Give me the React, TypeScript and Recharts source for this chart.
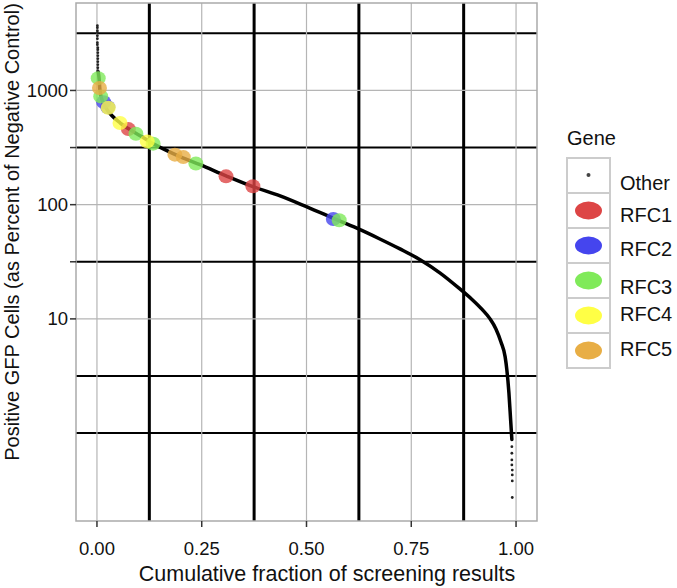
import React from 'react';
import { ComposedChart, Line, Scatter, XAxis, YAxis, CartesianGrid, ReferenceArea } from 'recharts';

const FONT = '"Liberation Sans", Arial, Helvetica, sans-serif';

// axis breaks
const X_MAJOR = [0, 0.25, 0.5, 0.75, 1];
const X_MINOR = [0.125, 0.375, 0.625, 0.875];
const Y_MAJOR = [10, 100, 1000];
const Y_MINOR = [1, 3.162, 31.62, 316.2, 3162];
const Y_TICKS = [10, 31.62, 100, 316.2, 1000];
const X_DOMAIN = [-0.05, 1.05];
const Y_DOMAIN = [0.17, 5830];

// "Other" screening results
const otherX = [0.003, 0.005, 0.007, 0.012, 0.021, 0.036, 0.055, 0.079, 0.103, 0.126, 0.162, 0.198, 0.246, 0.308, 0.372, 0.437, 0.501, 0.573, 0.628, 0.675, 0.723, 0.771, 0.819, 0.866, 0.895, 0.919, 0.938, 0.952, 0.964, 0.974, 0.978, 0.983, 0.987, 0.99];
const otherY = [1450, 1290, 1014, 830, 706, 601, 521, 453, 402, 356, 303, 263, 224, 179, 144, 119.5, 95.7, 73.6, 60.4, 50.1, 41, 33, 25.2, 18.3, 14.8, 12.1, 10, 8.17, 6.28, 4.65, 3.6, 2.25, 1.32, 0.88];

// sparse tail points at both ends
const topTailX = [0.001, 0.001, 0.001, 0.001, 0.001, 0.001, 0.001, 0.001, 0.002, 0.002, 0.002, 0.002, 0.002, 0.002, 0.002, 0.002, 0.002];
const topTailY = [3690, 3542, 3334, 3204, 3017, 2840, 2618, 2514, 2366, 2274, 2140, 2014, 1896, 1785, 1680, 1581, 1489];
const bottomTailX = [0.99, 0.99, 0.99, 0.99, 0.991, 0.991, 0.991, 0.991];
const bottomTailY = [0.761, 0.666, 0.582, 0.526, 0.475, 0.43, 0.381, 0.273];

// highlighted genes
const rfc1X = [0.075, 0.308, 0.372];
const rfc1Y = [459, 177, 145];
const rfc2X = [0.016, 0.026, 0.564];
const rfc2Y = [790, 712, 75];
const rfc3X = [0.003, 0.009, 0.093, 0.134, 0.236, 0.578];
const rfc3Y = [1282, 887, 418, 342, 229, 73];
const rfc4X = [0.027, 0.055, 0.12];
const rfc4Y = [705, 519, 358];
const rfc5X = [0.006, 0.186, 0.206];
const rfc5Y = [1050, 274, 261];

const GENES = ['RFC1', 'RFC2', 'RFC3', 'RFC4', 'RFC5'];
const GENE_COLORS = ['#dd4545', '#4545ee', '#80ea5a', '#ffff45', '#e8ae45'];
const GENE_X = [rfc1X, rfc2X, rfc3X, rfc4X, rfc5X];
const GENE_Y = [rfc1Y, rfc2Y, rfc3Y, rfc4Y, rfc5Y];

const zip = (xs: number[], ys: number[]) => xs.map((x, i) => ({ x, y: ys[i] }));

const otherData = zip(otherX, otherY);
const tailData = [...zip(topTailX, topTailY), ...zip(bottomTailX, bottomTailY)];
const geneData = GENES.map((_, i) => zip(GENE_X[i], GENE_Y[i]));

const LEGEND_LABEL_Y = [183, 215, 249, 287, 314, 349];

const Overlay = () => (
  <svg width={677} height={588} style={{ position: 'absolute', left: 0, top: 0, pointerEvents: 'none' }} fontFamily={FONT}>
    <text x={327} y={581} textAnchor="middle" fontSize={21.5} fill="#111">Cumulative fraction of screening results</text>
    <text transform="translate(19,232) rotate(-90)" textAnchor="middle" fontSize={20} fill="#111">
      Positive GFP Cells (as Percent of Negative Control)
    </text>
    <text x={567} y={138} dy="0.35em" fontSize={20} fill="#111">Gene</text>
    {['Other', ...GENES].map((name, i) => {
      const top = 158 + i * 35;
      return (
        <g key={name}>
          <rect x={567} y={top} width={43} height={35} fill="#fff" stroke="#cccccc" strokeWidth={2} />
          {i === 0
            ? <circle cx={588.5} cy={top + 17} r={2} fill="#444" />
            : <ellipse cx={588.5} cy={top + 17.5} rx={13.5} ry={9} fill={GENE_COLORS[i - 1]} />}
          <text x={620} y={LEGEND_LABEL_Y[i]} dy="0.35em" fontSize={20} fill="#111">{name}</text>
        </g>
      );
    })}
  </svg>
);

export default function App() {
  const tick = { fontSize: 18.5, fill: '#111', fontFamily: FONT };
  return (
    <div style={{ position: 'absolute', left: 0, top: 0, width: 677, height: 588, background: '#fff' }}>
      <ComposedChart width={677} height={588} margin={{ top: 3, right: 140, bottom: 0, left: 0 }}>
        <CartesianGrid horizontal={false} verticalValues={X_MINOR} stroke="#000" strokeWidth={3} />
        <CartesianGrid vertical={false} horizontalValues={Y_MINOR} stroke="#000" strokeWidth={2} />
        <CartesianGrid verticalValues={X_MAJOR} horizontalValues={Y_MAJOR} stroke="#b5b5b5" strokeWidth={1.2} />
        <XAxis
          type="number"
          dataKey="x"
          domain={X_DOMAIN}
          allowDataOverflow
          ticks={X_MAJOR}
          interval={0}
          tickFormatter={(v: number) => v.toFixed(2)}
          axisLine={false}
          tickLine={{ stroke: '#333', strokeWidth: 1.5 }}
          tickSize={6}
          tickMargin={15}
          height={67}
          tick={tick}
        />
        <YAxis
          type="number"
          dataKey="y"
          scale="log"
          domain={Y_DOMAIN}
          allowDataOverflow
          ticks={Y_TICKS}
          interval={0}
          tickFormatter={(v: number) => (Y_MAJOR.includes(v) ? String(v) : '')}
          axisLine={false}
          tickLine={{ stroke: '#333', strokeWidth: 1.5 }}
          tickSize={6}
          tickMargin={2}
          width={76}
          tick={tick}
        />
        <Line data={otherData} dataKey="y" type="monotone" stroke="#000" strokeWidth={3.5} strokeLinecap="round" dot={false} activeDot={false} isAnimationActive={false} />
        <Scatter data={tailData} dataKey="y" isAnimationActive={false} shape={(p: any) => <circle cx={p.cx} cy={p.cy} r={1.4} fill="#222" />} />
        {geneData.map((d, i) => (
          <Scatter
            key={GENES[i]}
            data={d}
            dataKey="y"
            isAnimationActive={false}
            shape={(p: any) => <ellipse cx={p.cx} cy={p.cy} rx={7.5} ry={7} fill={GENE_COLORS[i]} fillOpacity={0.8} />}
          />
        ))}
        <ReferenceArea x1={X_DOMAIN[0]} x2={X_DOMAIN[1]} y1={Y_DOMAIN[0]} y2={Y_DOMAIN[1]} fill="none" stroke="#aaaaaa" strokeWidth={1.5} ifOverflow="visible" />
      </ComposedChart>
      <Overlay />
    </div>
  );
}
